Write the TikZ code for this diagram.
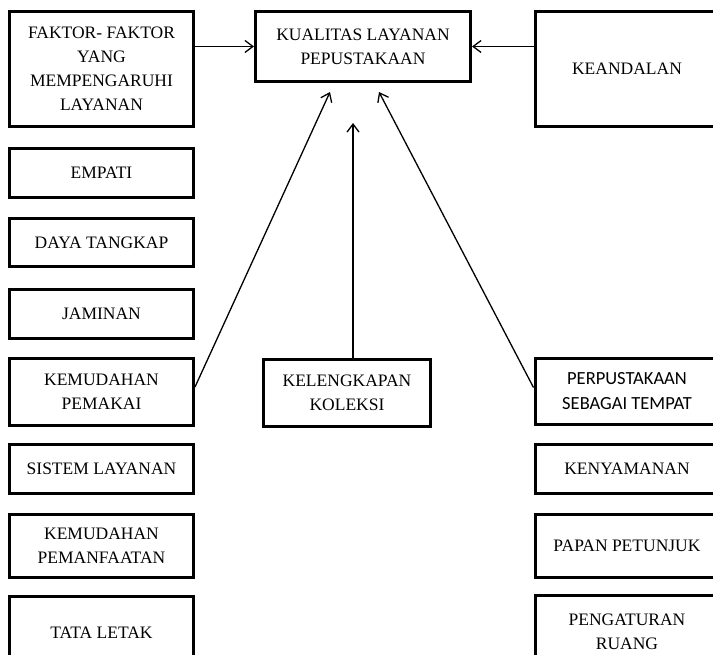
\documentclass[tikz,border=0pt]{standalone}
\usepackage{fontspec}
\setmainfont{Liberation Serif}
\newfontfamily\calib{Carlito}
\usetikzlibrary{arrows.meta}
\tikzset{
  box/.style={draw, line width=3pt, align=center, inner sep=0pt,
    font=\fontsize{17.5}{24}\selectfont},
  lbox/.style={box, minimum width=184pt},
  arr/.style={line width=1.3pt, -{Straight Barb[length=8pt,width=12pt,line width=1.3pt]}}
}
\begin{document}
\begin{tikzpicture}[x=1pt,y=-1pt]
\clip (0,0) rectangle (713,655);
\fill[white] (0,0) rectangle (713,655);
% left column
\node[lbox, minimum height=115pt] (faktor) at (101.5,69) {FAKTOR- FAKTOR\\YANG\\MEMPENGARUHI\\LAYANAN};
\node[lbox, minimum height=49pt] (empati) at (101.5,173) {EMPATI};
\node[lbox, minimum height=48pt] (daya) at (101.5,242.5) {DAYA TANGKAP};
\node[lbox, minimum height=49pt] (jaminan) at (101.5,314) {JAMINAN};
\node[lbox, minimum height=67pt] (kpemakai) at (101.5,392) {KEMUDAHAN\\PEMAKAI};
\node[lbox, minimum height=49pt] (sistem) at (101.5,469) {SISTEM LAYANAN};
\node[lbox, minimum height=63pt] (kpemanf) at (101.5,546) {KEMUDAHAN\\PEMANFAATAN};
\node[lbox, minimum height=73pt] (tata) at (101.5,633) {TATA LETAK};
% centre
\node[box, minimum width=215pt, minimum height=70pt] (kual) at (363,46.5) {KUALITAS LAYANAN\\PEPUSTAKAAN};
\node[box, minimum width=167pt, minimum height=67pt] (kel) at (347,393) {KELENGKAPAN\\KOLEKSI};
% right column
\node[lbox, minimum height=115pt] (keand) at (627,69) {KEANDALAN};
\node[lbox, minimum height=66pt, font=\calib\fontsize{18.5}{25}\selectfont] (perpus) at (627,391.5) {PERPUSTAKAAN\\SEBAGAI TEMPAT};
\node[lbox, minimum height=49pt] (kenyam) at (627,469) {KENYAMANAN};
\node[lbox, minimum height=63pt] (papan) at (627,546) {PAPAN PETUNJUK};
\node[lbox, minimum height=73pt] (pengat) at (627,632) {PENGATURAN\\RUANG};
% arrow ends
\coordinate (tipL) at (330,92);
\coordinate (tipM) at (353,123);
\coordinate (tipR) at (379,92);
% connectors
\draw[arr] (faktor.east |- kual.west) -- (kual.west);
\draw[arr] (keand.west |- kual.east) -- (kual.east);
\draw[arr] ([yshift=5pt]kpemakai.east) -- (tipL);
\draw[arr] ([xshift=6pt]kel.north) -- (tipM);
\draw[arr] ([yshift=4pt]perpus.west) -- (tipR);
\end{tikzpicture}
\end{document}
